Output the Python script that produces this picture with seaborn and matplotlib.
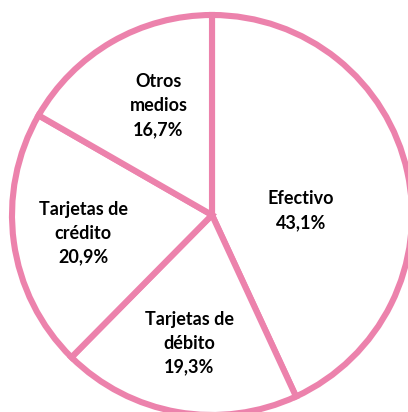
import matplotlib
matplotlib.use("Agg")
import matplotlib.pyplot as plt
import seaborn as sns
import numpy as np

sns.set_theme(style="white")
plt.rcParams['font.family'] = ['Lato', 'DejaVu Sans']

categories = ["Efectivo", "Tarjetas de\ndébito", "Tarjetas de\ncrédito", "Otros\nmedios"]
values = [43.1, 19.3, 20.9, 16.7]
value_labels = ["43,1%", "19,3%", "20,9%", "16,7%"]

pink = "#EC82AC"

fig = plt.figure(figsize=(4.08, 4.12), dpi=100)
fig.patch.set_facecolor("white")
W, H = 408, 412
cx, cy, r = 212, 215, 200
ax = fig.add_axes([(cx - r) / W, (H - cy - r) / H, 2 * r / W, 2 * r / H])
ax.axis("off")

wedges, _ = ax.pie(values, startangle=90, counterclock=False, radius=1,
                   colors=["white"] * len(values),
                   wedgeprops=dict(edgecolor=pink, linewidth=4.4, joinstyle="miter"))
for w in wedges:
    w.set_clip_on(False)
ax.set_xlim(-1, 1)
ax.set_ylim(-1, 1)

# label positions (angle in degrees, distance as fraction of radius)
label_pos = [(3, 0.445), (260, 0.65), (188, 0.65), (116, 0.61)]
for cat, vl, (ang, d) in zip(categories, value_labels, label_pos):
    a = np.deg2rad(ang)
    ax.text(d * np.cos(a), d * np.sin(a), f"{cat}\n{vl}", ha="center", va="center",
            fontsize=13, fontweight="bold", color="black", linespacing=1.5)

fig.savefig("out.png", dpi=100)
